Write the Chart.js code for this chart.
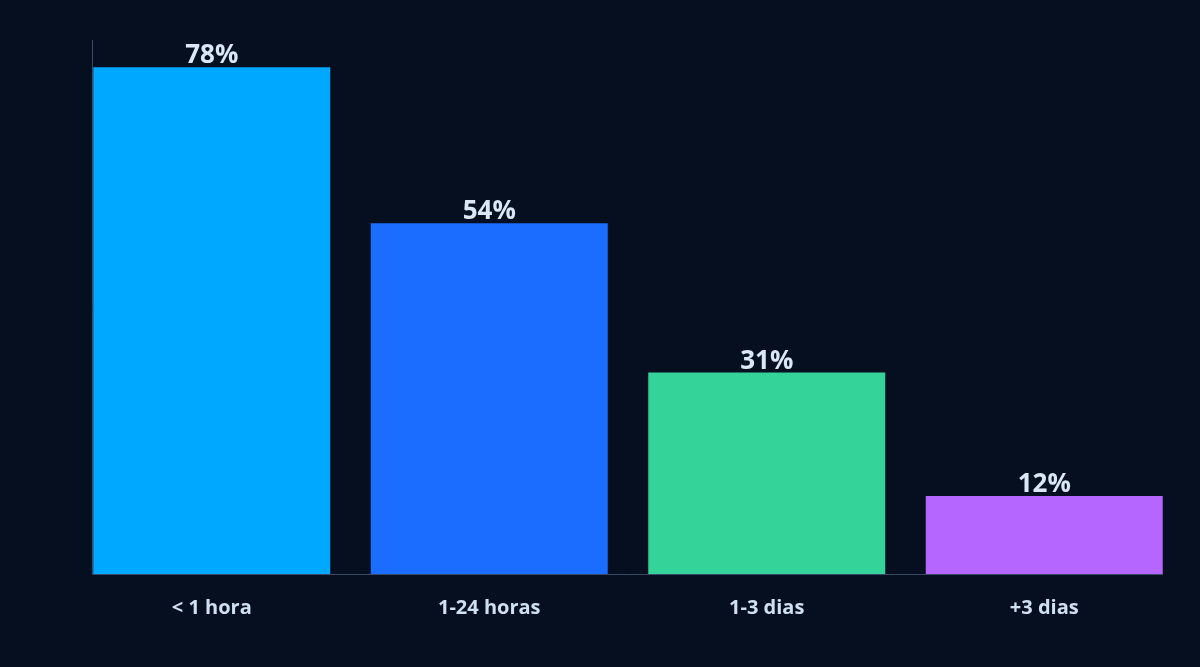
<!DOCTYPE html>
<html>
<head>
<meta charset="utf-8">
<script src="https://cdn.jsdelivr.net/npm/chart.js@4.4.0/dist/chart.umd.min.js"></script>
<style>
  html, body { margin: 0; padding: 0; background: #060f1f; }
  #wrap { width: 1200px; height: 667px; }
</style>
</head>
<body>
<div id="wrap"><canvas id="chart"></canvas></div>
<script>
// Data
const categories = ['< 1 hora', '1-24 horas', '1-3 dias', '+3 dias'];
const values = [78, 54, 31, 12];
const barColors = ['#00a8ff', '#1a6dff', '#34d399', '#b466ff'];

// Axis lines hug the outer bar edges, so draw them from the bar elements
const axisLines = {
    id: 'axisLines',
    beforeDatasetsDraw(chart) {
        const ctx = chart.ctx;
        const bars = chart.getDatasetMeta(0).data;
        const first = bars[0], last = bars[bars.length - 1];
        const left = Math.round(first.x - first.width / 2) - 0.5;
        const right = Math.round(last.x + last.width / 2);
        const bottom = Math.round(chart.scales.y.bottom) + 0.5;
        ctx.save();
        ctx.strokeStyle = '#3a4a66';
        ctx.lineWidth = 1;
        ctx.beginPath();
        ctx.moveTo(left, chart.chartArea.top);
        ctx.lineTo(left, bottom);
        ctx.lineTo(right, bottom);
        ctx.stroke();
        ctx.restore();
    }
};

// Percent labels drawn above each bar
const valueLabels = {
    id: 'valueLabels',
    afterDatasetsDraw(chart) {
        const ctx = chart.ctx;
        const meta = chart.getDatasetMeta(0);
        ctx.save();
        ctx.font = 'bold 26px "Open Sans", sans-serif';
        ctx.fillStyle = '#dbe7f5';
        ctx.textAlign = 'center';
        ctx.textBaseline = 'alphabetic';
        meta.data.forEach((bar, i) => {
            ctx.fillText(values[i] + '%', bar.x, bar.y - 4);
        });
        ctx.restore();
    }
};

new Chart(document.getElementById('chart'), {
    type: 'bar',
    data: {
        labels: categories,
        datasets: [{
            data: values,
            backgroundColor: barColors,
            borderWidth: 0,
            categoryPercentage: 1,
            barPercentage: 0.854
        }]
    },
    options: {
        responsive: true,
        maintainAspectRatio: false,
        animation: false,
        layout: { padding: { left: 65, right: 17, top: 40, bottom: 33 } },
        plugins: { legend: { display: false }, tooltip: { enabled: false } },
        scales: {
            x: {
                grid: { display: false },
                border: { display: false },
                ticks: {
                    color: '#cfe0f2',
                    font: { family: '"Open Sans", sans-serif', size: 20, weight: 'bold' },
                    padding: 14
                }
            },
            y: {
                min: 0,
                max: 82.2,
                grid: { display: false },
                border: { display: false },
                ticks: { display: false }
            }
        }
    },
    plugins: [axisLines, valueLabels]
});
</script>
</body>
</html>
